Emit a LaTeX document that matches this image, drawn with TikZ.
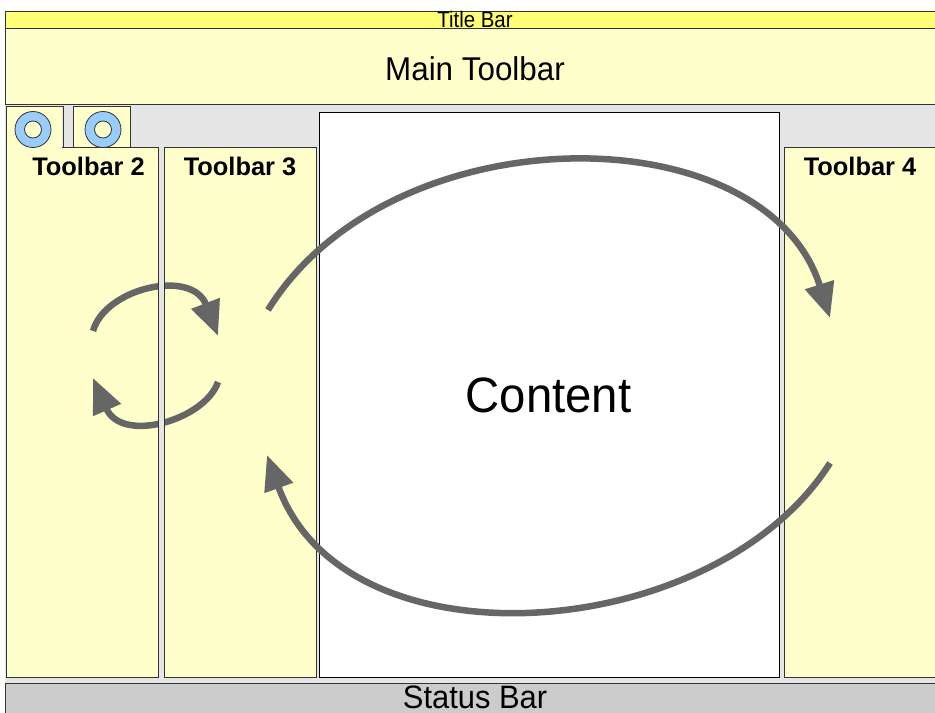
\documentclass[tikz,border=0pt]{standalone}
\usepackage{fontspec}
\usepackage{graphicx}
\setmainfont{Liberation Sans}
\usetikzlibrary{arrows.meta}
\definecolor{titleyellow}{HTML}{FFFF77}
\definecolor{paleyellow}{HTML}{FFFFCC}
\definecolor{bggray}{HTML}{E5E5E5}
\definecolor{statusgray}{HTML}{CCCCCC}
\definecolor{ringblue}{HTML}{99CCFF}
\definecolor{arrowgray}{HTML}{666666}
\definecolor{edgegray}{HTML}{333333}
\tikzset{
  panel/.style={fill=paleyellow, draw=edgegray, line width=1bp},
  flow/.style={draw=arrowgray, line width=6.5bp, -{Triangle[length=35bp,width=29bp]}},
  tblabel/.style={font=\fontsize{25.5}{28}\selectfont\bfseries, inner sep=0pt},
  ring/.style={fill=ringblue, draw=edgegray, line width=0.8bp, even odd rule}
}
\begin{document}
\begin{tikzpicture}[x=1bp,y=-1bp]
\useasboundingbox (0,0) rectangle (935,713);
% gray work area
\fill[bggray] (5,105) rectangle (945,683);
% title bar and main toolbar
\draw[fill=titleyellow, draw=edgegray, line width=1bp] (5,12) rectangle (945,29);
\draw[panel] (5,29) rectangle (945,105);
% toolbar 2 with its tab
\draw[panel] (6,148) rectangle (158,677);
\fill[paleyellow] (6.6,107) rectangle (62.4,148.8);
\draw[edgegray, line width=1bp] (6,148) -- (6,107) -- (63,107) -- (63,148);
% second tab
\draw[panel] (73,107) rectangle (130,148);
% ring icons
\path[ring] (33,129.5) circle (18) (33,129.5) circle (8.5);
\path[ring] (103,129.5) circle (18) (103,129.5) circle (8.5);
% toolbar 3, content, toolbar 4
\draw[panel] (164,148) rectangle (316,677);
\draw[fill=white, draw=black, line width=1bp] (319,113) rectangle (779,677);
\draw[panel] (784,148) rectangle (945,677);
% status bar
\draw[fill=statusgray, draw=edgegray, line width=1bp] (5,683) rectangle (945,725);
% small rotation arrows
\coordinate (s1a) at (93,331);
\coordinate (s1b) at (218,336);
\coordinate (s2a) at (218,382);
\coordinate (s2b) at (93,378);
\draw[flow] (s1a) .. controls (105,288) and (192,268) .. (s1b);
\draw[flow] (s2a) .. controls (205,420) and (122,444) .. (s2b);
% gap between toolbar 2 and 3 lies over the small arrows
\fill[bggray] (158.5,148) rectangle (163.5,677);
\draw[edgegray, line width=1bp] (158,148) -- (158,677) (164,148) -- (164,677);
% big rotation arrows
\coordinate (b1a) at (268,310);
\coordinate (b1b) at (830,318);
\coordinate (b2a) at (830,463);
\coordinate (b2b) at (267,455);
\draw[flow] (b1a) .. controls (390,112) and (765,112) .. (b1b);
\draw[flow] (b2a) .. controls (715,645) and (345,672) .. (b2b);
% labels
\node[inner sep=0pt] (title) at (475,19.5) {\scalebox{1}[1.1]{\fontsize{20.5}{22}\selectfont Title Bar}};
\node[inner sep=0pt] (main) at (475,68.5) {\scalebox{1}[1.05]{\fontsize{31.5}{34}\selectfont Main Toolbar}};
\node[tblabel] (tb2) at (88.5,166) {Toolbar 2};
\node[tblabel] (tb3) at (240,166) {Toolbar 3};
\node[tblabel] (tb4) at (860,166) {Toolbar 4};
\node[inner sep=0pt] (content) at (548.5,395) {\scalebox{1}[1.05]{\fontsize{47.5}{50}\selectfont Content}};
\node[inner sep=0pt] (status) at (475,697) {\scalebox{1}[1.05]{\fontsize{31}{33}\selectfont Status Bar}};
\end{tikzpicture}
\end{document}
